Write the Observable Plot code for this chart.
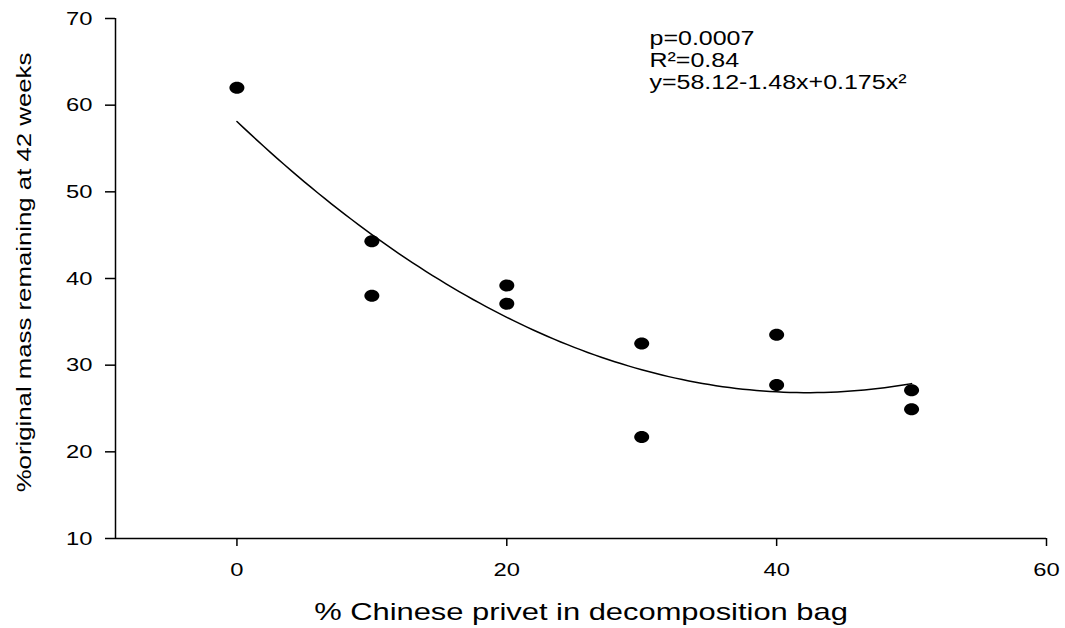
<!DOCTYPE html>
<html>
<head>
<meta charset="utf-8">
<script src="https://cdn.jsdelivr.net/npm/d3@7"></script>
<script src="https://cdn.jsdelivr.net/npm/@observablehq/plot@0.6"></script>
<style>
  body { margin: 0; background: #fff; }
  #chart svg { font-family: "Liberation Sans", Arial, sans-serif; color: #000; background: #fff; }
</style>
</head>
<body>
<div id="chart"></div>
<script>
// Mass remaining in decomposition bags after 42 weeks, by privet share
const privetPct = [0, 10, 10, 20, 20, 30, 30, 40, 40, 50, 50];
const massRemaining = [62.0, 44.3, 38.0, 39.2, 37.1, 32.5, 21.7, 33.5, 27.7, 27.1, 24.9];

// Quadratic fit coefficients (intercept, linear, quadratic)
const fitCoef = [58.12, -1.48, 0.0175];

const xTicks = [0, 20, 40, 60];
const yTicks = [10, 20, 30, 40, 50, 60, 70];
const statsLines = ["p=0.0007", "R²=0.84", "y=58.12-1.48x+0.175x²"];
const xTitle = "% Chinese privet in decomposition bag";
const yTitle = "%original mass remaining at 42 weeks";

const points = privetPct.map((x, i) => ({x, y: massRemaining[i]}));
const fitLine = d3.range(0, 50.001, 0.5).map(x => ({
  x,
  y: fitCoef[0] + fitCoef[1] * x + fitCoef[2] * x * x
}));

// Slightly wide elliptical marker
const ellipseSymbol = {
  draw(ctx, size) {
    const r = Math.sqrt(size / Math.PI);
    const rx = r * 1.25, ry = r, k = 0.5523;
    ctx.moveTo(rx, 0);
    ctx.bezierCurveTo(rx, ry * k, rx * k, ry, 0, ry);
    ctx.bezierCurveTo(-rx * k, ry, -rx, ry * k, -rx, 0);
    ctx.bezierCurveTo(-rx, -ry * k, -rx * k, -ry, 0, -ry);
    ctx.bezierCurveTo(rx * k, -ry, rx, -ry * k, rx, 0);
    ctx.closePath();
  }
};

const chart = Plot.plot({
  width: 1065,
  height: 628,
  marginLeft: 115,
  marginRight: 19,
  marginTop: 18,
  marginBottom: 90,
  style: {fontSize: "19px", fontFamily: "'Liberation Sans', Arial, sans-serif", color: "#000"},
  x: {domain: [-9, 60]},
  y: {domain: [10, 70]},
  marks: [
    Plot.axisX({ticks: xTicks, tickSize: 8, tickPadding: 16, strokeWidth: 1.5, label: null}),
    Plot.axisY({ticks: yTicks, tickSize: 10, tickPadding: 13, strokeWidth: 1.5, label: null}),
    Plot.ruleX([-9], {stroke: "#000", strokeWidth: 1.5}),
    Plot.ruleY([10], {stroke: "#000", strokeWidth: 1.5}),
    Plot.line(fitLine, {x: "x", y: "y", stroke: "#000", strokeWidth: 1.5, curve: "linear"}),
    Plot.dot(points, {x: "x", y: "y", r: 6, fill: "#000", stroke: "none", symbol: ellipseSymbol}),
    Plot.text([statsLines.join("\n")], {
      frameAnchor: "top-left", dx: 534, dy: 10.5,
      textAnchor: "start", lineAnchor: "top", lineHeight: 1.1, fontSize: 20
    }),
    Plot.text([xTitle], {
      frameAnchor: "bottom", dy: 73.5, textAnchor: "middle", lineAnchor: "middle", fontSize: 24
    }),
    Plot.text([yTitle], {
      frameAnchor: "left", dx: -91, dy: -6, rotate: -90,
      textAnchor: "middle", lineAnchor: "middle", fontSize: 21
    })
  ]
});

document.getElementById("chart").appendChild(chart);

// Widen the lettering along its baseline, keeping each text's anchor fixed
const targetLengths = new Map([[xTitle, 534], [yTitle, 440]]);
d3.select(chart).selectAll("text").each(function () {
  const n = this.getComputedTextLength();
  if (!(n > 0)) return;
  const target = targetLengths.get(this.textContent);
  const k = target ? target / n : 1.25;
  const xAttr = this.getAttribute("x");
  const x = xAttr != null && isFinite(+xAttr) ? +xAttr : 0;
  if (xAttr != null && isFinite(+xAttr)) this.setAttribute("x", 0);
  const t = this.getAttribute("transform") || "";
  this.setAttribute("transform", `${t} translate(${x},0) scale(${k.toFixed(4)},1)`);
});
</script>
</body>
</html>
